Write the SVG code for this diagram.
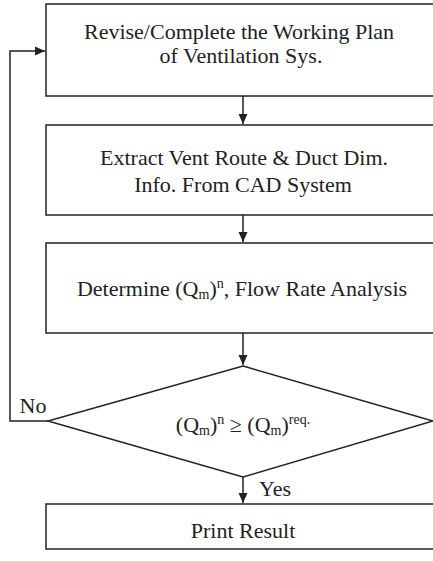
<svg xmlns="http://www.w3.org/2000/svg" width="433" height="561" viewBox="0 0 433 561">
  <style>
    .box { fill: #fff; stroke: #222; stroke-width: 1.5; }
    .line { fill: none; stroke: #222; stroke-width: 1.5; }
    text { font-family: "Liberation Serif", "Times New Roman", serif; font-size: 22px; fill: #222; text-anchor: middle; }
    .sub { font-size: 14px; }
  </style>
  <defs>
    <marker id="arrow" viewBox="0 0 10 10" refX="10" refY="5" markerWidth="10" markerHeight="10" markerUnits="userSpaceOnUse" orient="auto">
      <path d="M0,0.5 L10,5 L0,9.5 Z" fill="#222"/>
    </marker>
  </defs>
  <rect width="433" height="561" fill="#fff"/>

  <g id="revise-plan">
    <rect class="box" x="46" y="4" width="400" height="92"/>
    <text x="239" y="39">Revise/Complete the Working Plan</text>
    <text x="241" y="63">of Ventilation Sys.</text>
  </g>

  <g id="extract-info">
    <rect class="box" x="46" y="125" width="400" height="90"/>
    <text x="244" y="165">Extract Vent Route &amp; Duct Dim.</text>
    <text x="243" y="192">Info. From CAD System</text>
  </g>

  <g id="flow-analysis">
    <rect class="box" x="46" y="243" width="400" height="90"/>
    <text x="242" y="296">Determine (Q<tspan class="sub" dy="3">m</tspan><tspan dy="-3">)</tspan><tspan class="sub" dy="-8">n</tspan><tspan dy="8">, Flow Rate Analysis</tspan></text>
  </g>

  <g id="check-flow">
    <polygon class="box" points="243,366 433,421 243,477 48,421"/>
    <text x="243" y="432">(Q<tspan class="sub" dy="3">m</tspan><tspan dy="-3">)</tspan><tspan class="sub" dy="-8">n</tspan><tspan dy="8"> ≥ (Q</tspan><tspan class="sub" dy="3">m</tspan><tspan dy="-3">)</tspan><tspan class="sub" dy="-8">req.</tspan></text>
  </g>

  <g id="print-result">
    <rect class="box" x="46" y="504" width="400" height="45"/>
    <text x="243" y="538">Print Result</text>
  </g>

  <g id="connectors">
    <line class="line" x1="243" y1="96" x2="243" y2="124" marker-end="url(#arrow)"/>
    <line class="line" x1="243" y1="215" x2="243" y2="242" marker-end="url(#arrow)"/>
    <line class="line" x1="243" y1="333" x2="243" y2="365" marker-end="url(#arrow)"/>
    <line class="line" x1="243" y1="477" x2="243" y2="503" marker-end="url(#arrow)"/>
    <polyline class="line" points="48,421 10,421 10,51 45,51" marker-end="url(#arrow)"/>
    <text x="33" y="413">No</text>
    <text x="275" y="496">Yes</text>
  </g>
</svg>
